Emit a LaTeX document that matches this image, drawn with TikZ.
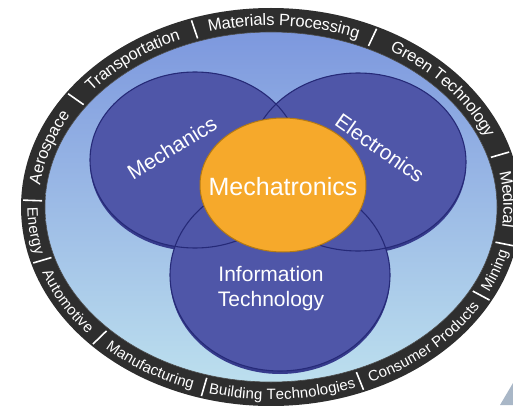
\documentclass[tikz,border=0pt]{standalone}
\usepackage{fontspec}
\setmainfont{Liberation Sans}
\usepackage{tikz}
\usetikzlibrary{decorations.text}
\definecolor{ringdark}{HTML}{2E2E2E}
\definecolor{bandtop}{HTML}{7D98DE}
\definecolor{bandbottom}{HTML}{BCDFEE}
\definecolor{discblue}{HTML}{4F56A8}
\definecolor{discedge}{HTML}{262A78}
\definecolor{discshade}{HTML}{363B8C}
\definecolor{coreorange}{HTML}{F6A92B}
\definecolor{coreedge}{HTML}{B57A12}
\definecolor{wedgegray}{HTML}{A9B7C7}
% one label bent along the ring, from angle #2 to angle #3, in size #1
\newcommand{\ringlabel}[4][16.5]{%
  \path[decorate, decoration={text along path, text align=center, raise=-5.5pt,
      text={|\fontsize{#1}{19}\selectfont\color{white}|#4}}]
    ([shift={(#2:238pt and 187pt)}]c) arc[start angle=#2, end angle=#3, x radius=238pt, y radius=187pt];}

\begin{document}
\begin{tikzpicture}[x=1pt,y=1pt]
  \useasboundingbox (0,0) rectangle (513,405);
  \clip (0,0) rectangle (513,405);
  \coordinate (c) at (271,198);

  % Ring and light band
  \fill[ringdark] (c) ellipse[x radius=250pt, y radius=199pt];
  \shadedraw[top color=bandtop, bottom color=bandbottom, draw=black!70, line width=.6pt]
    (c) ellipse[x radius=226pt, y radius=175pt];

  % separators
  \foreach \a in {178,144.9,108.7,64.8,16.2,-11.4,-28.2,-68.1,-106.3,-135.9,-163.5}
    \draw[white, line width=1.6pt] ([shift={(\a:229pt and 178pt)}]c) -- ([shift={(\a:248pt and 197pt)}]c);

  % ring labels, top half clockwise, bottom half counter-clockwise
  \ringlabel{178}{144.9}{Aerospace}
  \ringlabel{144.9}{108.7}{Transportation}
  \ringlabel{108.7}{64.8}{Materials Processing}
  \ringlabel{64.8}{16.2}{Green Technology}
  \ringlabel{16.2}{-11.4}{Medical}
  \ringlabel[15]{-28.2}{-11.4}{Mining}
  \ringlabel[15]{-68.1}{-28.2}{Consumer Products}
  \ringlabel[15]{-106.3}{-68.1}{Building Technologies}
  \ringlabel[15]{-135.9}{-106.3}{Manufacturing}
  \ringlabel[15]{-163.5}{-135.9}{Automotive}
  \ringlabel[15]{178}{196.5}{Energy}

  % Discs
  \coordinate (mechc) at (195,245);
  \coordinate (elecc) at (358,243);
  \coordinate (infoc) at (280,130);
  \fill[discshade] ([yshift=-3pt]mechc) ellipse[x radius=105pt, y radius=88pt];
  \fill[discshade] ([yshift=-3pt]elecc) ellipse[x radius=108pt, y radius=89pt];
  \fill[discshade] ([yshift=-3pt]infoc) ellipse[x radius=110pt, y radius=96pt];
  \fill[discblue] (mechc) ellipse[x radius=105pt, y radius=88pt];
  \fill[discblue] (elecc) ellipse[x radius=108pt, y radius=89pt];
  \fill[discblue] (infoc) ellipse[x radius=110pt, y radius=96pt];
  \draw[discedge, line width=1.1pt] (mechc) ellipse[x radius=105pt, y radius=88pt];
  \draw[discedge, line width=1.1pt] (elecc) ellipse[x radius=108pt, y radius=89pt];
  \draw[discedge, line width=1.1pt] (infoc) ellipse[x radius=110pt, y radius=96pt];

  % core
  \filldraw[fill=coreorange, draw=coreedge, line width=1pt] (283,220) ellipse[x radius=83pt, y radius=67pt];

  \node[rotate=31.5, text=white, font=\fontsize{21}{24}\selectfont] (mech) at (172,257) {Mechanics};
  \node[rotate=-35, text=white, font=\fontsize{21}{24}\selectfont] (elec) at (380,257) {Electronics};
  \node[align=center, text=white, font=\fontsize{21}{25}\selectfont] (info) at (271,116) {Information\\Technology};
  \node[text=white, font=\fontsize{25}{28}\selectfont] (core) at (283,218) {Mechatronics};

  % corner wedge
  \fill[wedgegray] (500,0) -- (513,22) -- (513,0) -- cycle;
\end{tikzpicture}
\end{document}
